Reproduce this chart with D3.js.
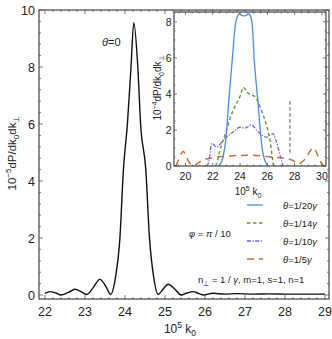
<!DOCTYPE html>
<html>
<head>
<meta charset="utf-8">
<script src="https://cdn.jsdelivr.net/npm/d3@7"></script>
<style>
  body { margin: 0; background: #fff; }
  text { font-family: "Liberation Sans", Arial, sans-serif; fill: #222; }
</style>
</head>
<body>
<div id="chart"></div>
<script>
// main curve, theta = 0 (values in 1e-5)
var mainK = [22.0, 22.13, 22.27, 22.4, 22.58, 22.75, 22.9, 23.04, 23.2, 23.37, 23.52, 23.64, 23.76, 23.875, 23.96, 24.06, 24.15, 24.22, 24.32, 24.39, 24.52, 24.61, 24.72, 24.83, 24.95, 25.08, 25.25, 25.4, 25.55, 25.7, 25.85, 25.96, 26.2, 26.5, 26.8, 27.2, 27.6, 28.0, 28.5, 29.0];
var mainP = [0.06, 0.12, 0.07, 0.0, 0.09, 0.2, 0.12, 0.02, 0.25, 0.55, 0.3, 0.02, 0.6, 2.05, 4.4, 6.0, 8.0, 9.55, 8.0, 6.0, 4.4, 2.05, 0.6, 0.02, 0.2, 0.38, 0.2, 0.0, 0.07, 0.12, 0.05, 0.0, 0.06, 0.03, 0.05, 0.03, 0.04, 0.03, 0.03, 0.03];

// inset curves (values in 1e-4)
var blueK = [22.45, 22.75, 23.0, 23.18, 23.43, 23.65, 23.8, 23.94, 24.1, 24.29, 24.47, 24.63, 24.78, 24.9, 25.04, 25.3, 25.5, 25.74, 26.05];
var blueP = [0, 0.5, 1.8, 3.67, 5.9, 7.8, 8.3, 8.44, 8.38, 8.33, 8.38, 8.44, 8.3, 7.8, 5.9, 3.67, 1.8, 0.5, 0];

var greenK = [22.2, 22.29, 22.5, 22.77, 23.02, 23.25, 23.5, 23.75, 23.99, 24.25, 24.5, 24.8, 25.09, 25.46, 25.82, 26.19, 26.39, 26.45];
var greenP = [0, 0.15, 0.8, 1.44, 2.0, 2.6, 3.1, 3.5, 3.85, 4.37, 4.1, 3.95, 3.85, 3.3, 2.55, 1.44, 0.33, 0];

var purpleK = [21.6, 21.75, 21.92, 22.05, 22.29, 22.77, 23.5, 23.99, 24.36, 24.85, 25.2, 25.46, 25.95, 26.25, 26.43, 26.6, 26.8, 27.0, 27.16];
var purpleP = [0, 0.4, 1.26, 1.2, 1.05, 1.44, 1.9, 2.15, 2.1, 2.28, 2.0, 1.8, 1.6, 1.75, 1.8, 1.5, 1.0, 0.4, 0];

var orangeK = [19.3, 19.5, 19.7, 19.84, 20.0, 20.2, 20.35, 20.57, 20.9, 21.3, 22.29, 23.5, 24.97, 26.19, 27.41, 27.9, 28.26, 28.5, 28.88, 29.15, 29.36, 29.6, 29.85, 30.1];
var orangeP = [0, 0.35, 0.7, 0.8, 0.65, 0.3, 0.12, 0.02, 0.15, 0.33, 0.5, 0.57, 0.6, 0.5, 0.42, 0.3, 0.12, 0.2, 0.5, 0.85, 1.0, 0.75, 0.3, 0];

// gray dashed marker in the inset
var markerK = 27.66;
var markerP = [0.7, 3.6];

var mainXTicks = [22, 23, 24, 25, 26, 27, 28, 29];
var mainYTicks = [0, 2, 4, 6, 8, 10];
var insetXTicks = [20, 22, 24, 26, 28, 30];
var insetYTicks = [0, 2, 4, 6, 8];

var legendLabels = ["1/20", "1/14", "1/10", "1/5"];

var svgWidth = 332, svgHeight = 339;

var svg = d3.select("#chart").append("svg")
  .attr("width", svgWidth)
  .attr("height", svgHeight);

function zip(a, b) { return a.map(function(v, i) { return [v, b[i]]; }); }

// draw frame with inward ticks on all four sides
function drawFrame(g, x, y, xMajor, yMajor, xMinorStep, yMinorStep, majLen, minLen) {
  var x0 = x.range()[0], x1 = x.range()[1];
  var y0 = y.range()[0], y1 = y.range()[1];
  var xd = x.domain(), yd = y.domain();
  var xMinor = d3.range(Math.ceil(xd[0] / xMinorStep) * xMinorStep, xd[1] + 1e-9, xMinorStep);
  var yMinor = d3.range(Math.ceil(yd[0] / yMinorStep) * yMinorStep, yd[1] + 1e-9, yMinorStep);
  var tk = g.append("g").attr("stroke", "#555").attr("stroke-width", 0.8);
  xMinor.forEach(function(v) {
    var isMaj = xMajor.some(function(m) { return Math.abs(m - v) < 1e-6; });
    var l = isMaj ? majLen : minLen;
    tk.append("line").attr("x1", x(v)).attr("x2", x(v)).attr("y1", y0).attr("y2", y0 - l);
    tk.append("line").attr("x1", x(v)).attr("x2", x(v)).attr("y1", y1).attr("y2", y1 + l);
  });
  yMinor.forEach(function(v) {
    var isMaj = yMajor.some(function(m) { return Math.abs(m - v) < 1e-6; });
    var l = isMaj ? majLen : minLen;
    tk.append("line").attr("y1", y(v)).attr("y2", y(v)).attr("x1", x0).attr("x2", x0 + l);
    tk.append("line").attr("y1", y(v)).attr("y2", y(v)).attr("x1", x1).attr("x2", x1 - l);
  });
  g.append("rect")
    .attr("x", x0).attr("y", y1)
    .attr("width", x1 - x0).attr("height", y0 - y1)
    .attr("fill", "none").attr("stroke", "#444").attr("stroke-width", 1.2);
}

// ---------------- main plot ----------------
var x = d3.scaleLinear().domain([21.85, 29.1]).range([39, 329]);
var y = d3.scaleLinear().domain([-0.14, 10]).range([299, 10]);

var mainG = svg.append("g");

mainG.append("path")
  .datum(zip(mainK, mainP))
  .attr("fill", "none")
  .attr("stroke", "#111")
  .attr("stroke-width", 1.4)
  .attr("d", d3.line().x(d => x(d[0])).y(d => y(d[1])).curve(d3.curveMonotoneX));

drawFrame(mainG, x, y, mainXTicks, mainYTicks, 0.2, 0.4, 4, 2);

mainG.selectAll(".mxt").data(mainXTicks).enter().append("text")
  .attr("x", d => x(d)).attr("y", 316)
  .attr("text-anchor", "middle").attr("font-size", 12.5)
  .text(d => d);

mainG.selectAll(".myt").data(mainYTicks).enter().append("text")
  .attr("x", 35).attr("y", d => y(d) + 4.5)
  .attr("text-anchor", "end").attr("font-size", 12.5)
  .text(d => d);

// x label
var xl = mainG.append("text").attr("x", 180).attr("y", 333).attr("text-anchor", "middle").attr("font-size", 12);
xl.append("tspan").text("10");
xl.append("tspan").attr("dy", -5).attr("font-size", 8.5).text("5");
xl.append("tspan").attr("dy", 5).text(" k");
xl.append("tspan").attr("dy", 3).attr("font-size", 8.5).text("0");

// y label
var yl = mainG.append("text")
  .attr("transform", "translate(16,153) rotate(-90)")
  .attr("text-anchor", "middle").attr("font-size", 11.5);
yl.append("tspan").text("10");
yl.append("tspan").attr("dy", -5).attr("font-size", 8).text("−5");
yl.append("tspan").attr("dy", 5).text("dP/dk");
yl.append("tspan").attr("dy", 3).attr("font-size", 8).text("0");
yl.append("tspan").attr("dy", -3).text("dk");
yl.append("tspan").attr("dy", 3).attr("font-size", 8).text("⊥");

var th0 = mainG.append("text").attr("x", 102).attr("y", 46).attr("font-size", 11);
th0.append("tspan").attr("font-style", "italic").text("θ");
th0.append("tspan").text("=0");

// ---------------- inset ----------------
var xi = d3.scaleLinear().domain([19.16, 30.3]).range([174, 326]);
var yi = d3.scaleLinear().domain([0, 8.55]).range([166, 12]);

var insetG = svg.append("g");
insetG.append("rect")
  .attr("x", 174).attr("y", 12).attr("width", 152).attr("height", 154)
  .attr("fill", "#fff");

svg.append("defs").append("clipPath").attr("id", "insetClip")
  .append("rect").attr("x", 174).attr("y", 12).attr("width", 152).attr("height", 154);

var series = [
  { k: blueK, p: blueP, color: "#4a8fe0", dash: null, width: 1.3 },
  { k: greenK, p: greenP, color: "#5d9b3a", dash: "3.5,2.5", width: 1.4 },
  { k: purpleK, p: purpleP, color: "#7d5fd8", dash: "4,1.5,1.2,1.5", width: 1.3 },
  { k: orangeK, p: orangeP, color: "#c8733a", dash: "7,5", width: 1.5 }
];

var lineI = d3.line().x(d => xi(d[0])).y(d => yi(d[1])).curve(d3.curveMonotoneX);
var curvesG = insetG.append("g").attr("clip-path", "url(#insetClip)");

series.slice().reverse().forEach(function(s) {
  curvesG.append("path")
    .datum(zip(s.k, s.p))
    .attr("fill", "none")
    .attr("stroke", s.color)
    .attr("stroke-width", s.width)
    .attr("stroke-dasharray", s.dash)
    .attr("d", lineI);
});

curvesG.append("line")
  .attr("x1", xi(markerK)).attr("x2", xi(markerK))
  .attr("y1", yi(markerP[1])).attr("y2", yi(markerP[0]))
  .attr("stroke", "#555").attr("stroke-width", 1).attr("stroke-dasharray", "3.5,2.5");

drawFrame(insetG, xi, yi, insetXTicks, insetYTicks, 0.5, 0.5, 3, 1.5);

insetG.selectAll(".ixt").data(insetXTicks).enter().append("text")
  .attr("x", d => xi(d)).attr("y", 179.5)
  .attr("text-anchor", "middle").attr("font-size", 10.5)
  .text(d => d);

insetG.selectAll(".iyt").data(insetYTicks).enter().append("text")
  .attr("x", 171.5).attr("y", d => yi(d) + 4)
  .attr("text-anchor", "end").attr("font-size", 10.5)
  .text(d => d);

var xli = insetG.append("text").attr("x", 248).attr("y", 195).attr("text-anchor", "middle").attr("font-size", 10);
xli.append("tspan").text("10");
xli.append("tspan").attr("dy", -4).attr("font-size", 7).text("5");
xli.append("tspan").attr("dy", 4).text(" k");
xli.append("tspan").attr("dy", 2.5).attr("font-size", 7).text("0");

var yli = insetG.append("text")
  .attr("transform", "translate(161,88) rotate(-90)")
  .attr("text-anchor", "middle").attr("font-size", 10);
yli.append("tspan").text("10");
yli.append("tspan").attr("dy", -4).attr("font-size", 7).text("−4");
yli.append("tspan").attr("dy", 4).text("dP/dk");
yli.append("tspan").attr("dy", 2.5).attr("font-size", 7).text("0");
yli.append("tspan").attr("dy", -2.5).text("dk");
yli.append("tspan").attr("dy", 2.5).attr("font-size", 7).text("⊥");

// ---------------- legend ----------------
var legendY = [205, 223, 241, 259];
var legG = svg.append("g");
series.forEach(function(s, i) {
  legG.append("line")
    .attr("x1", 247).attr("x2", 263)
    .attr("y1", legendY[i]).attr("y2", legendY[i])
    .attr("stroke", s.color).attr("stroke-width", s.width)
    .attr("stroke-dasharray", s.dash);
  var t = legG.append("text").attr("x", 283).attr("y", legendY[i] + 3.5)
    .attr("font-size", 9.5).attr("font-style", "italic");
  t.append("tspan").text("θ");
  t.append("tspan").attr("font-style", "normal").text("=" + legendLabels[i]);
  t.append("tspan").text("γ");
});

var phi = legG.append("text").attr("x", 189).attr("y", 236.5).attr("font-size", 9.5);
phi.append("tspan").attr("font-style", "italic").text("φ");
phi.append("tspan").text(" = ");
phi.append("tspan").attr("font-style", "italic").text("π");
phi.append("tspan").text(" / 10");

var nt = legG.append("text").attr("x", 198).attr("y", 283).attr("font-size", 9.5);
nt.append("tspan").text("n");
nt.append("tspan").attr("dy", 2.5).attr("font-size", 6.5).text("⊥");
nt.append("tspan").attr("dy", -2.5).text(" = 1 / ");
nt.append("tspan").attr("font-style", "italic").text("γ");
nt.append("tspan").text(", m=1, s=1, n=1");
</script>
</body>
</html>
